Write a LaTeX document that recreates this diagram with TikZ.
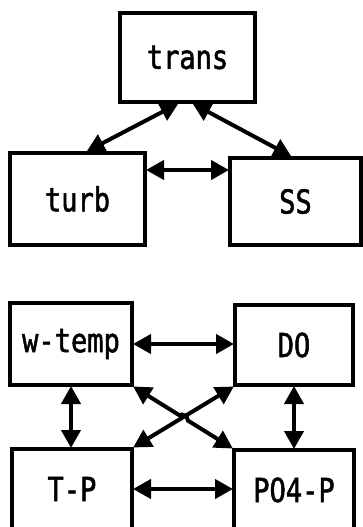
\documentclass[tikz,border=0pt]{standalone}
\usepackage{fontspec}
\newfontfamily\plotfont[FakeStretch=0.82,FakeBold=1.5]{DejaVu Sans Mono}
\usetikzlibrary{arrows.meta,calc}
\begin{document}
\begin{tikzpicture}[x=1pt,y=-1pt,
  box/.style={draw=black,line width=4pt,fill=white,inner sep=0pt,font=\plotfont\fontsize{33}{33}\selectfont},
  link/.style={line width=4pt,{Triangle[length=18pt,width=19pt]}-{Triangle[length=18pt,width=19pt]},shorten <=-1pt,shorten >=-1pt}]
\useasboundingbox[fill=white] (0,0) rectangle (362,527);
\node[box,minimum width=135pt,minimum height=89pt] (trans) at (187.5,57.5) {trans};
\node[box,minimum width=135pt,minimum height=92pt] (turb) at (77.5,199) {turb};
\node[box,minimum width=131pt,minimum height=87pt] (ss) at (295.5,201.5) {SS};
\node[box,minimum width=122pt,minimum height=82pt] (wt) at (71,344) {w-temp};
\node[box,minimum width=118pt,minimum height=80pt] (do) at (294,345) {DO};
\node[box,minimum width=120pt,minimum height=80pt] (tp) at (72,489) {T-P};
\node[box,minimum width=120pt,minimum height=80pt] (po) at (294,490) {PO4-P};
\draw[link] ([xshift=-10pt]trans.south) -- ([xshift=10pt]turb.north);
\draw[link] ([xshift=6pt]trans.south) -- ([xshift=-5pt]ss.north);
\coordinate (h1) at ([yshift=29pt]turb.east);
\draw[link] (h1) -- (h1 -| ss.west);
\draw[link] (wt.east) -- (wt.east -| do.west);
\draw[link] (tp.east) -- (tp.east -| po.west);
\draw[link] (wt.south) -- (wt.south |- tp.north);
\draw[link] (do.south) -- (do.south |- po.north);
\draw[link] (do.south west) -- (tp.north east);
\draw[link] (wt.south east) -- ($(wt.south east)!0.46!(po.north west)$) to[bend left=60] ($(wt.south east)!0.55!(po.north west)$) -- (po.north west);
\end{tikzpicture}
\end{document}
